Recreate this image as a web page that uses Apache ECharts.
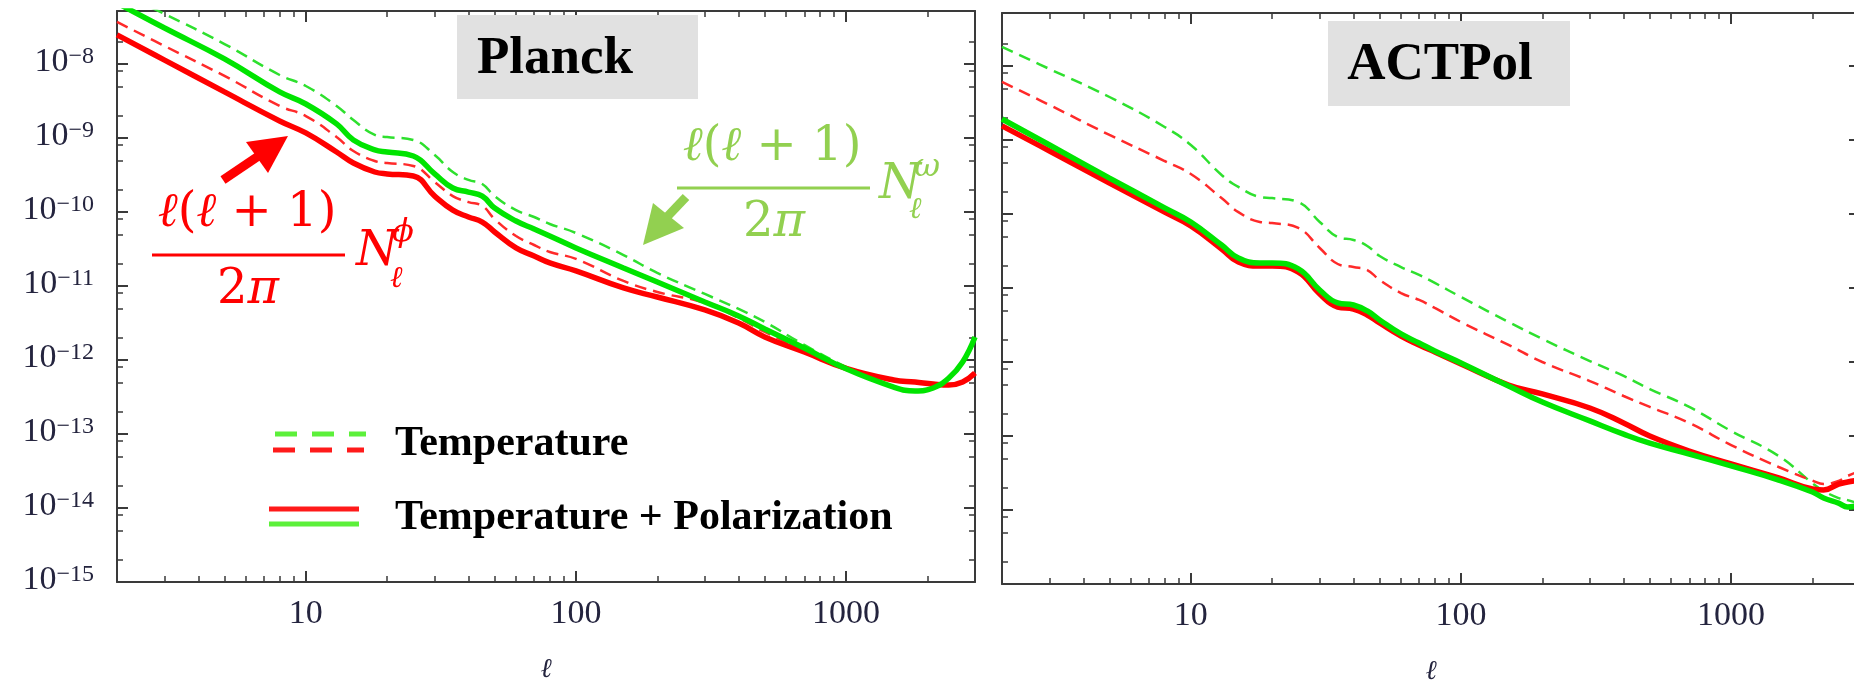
<!DOCTYPE html>
<html>
<head>
<meta charset="utf-8">
<title>Lensing reconstruction noise: Planck and ACTPol</title>
<script src="https://cdn.jsdelivr.net/npm/echarts@6.0.0/dist/echarts.min.js"></script>
<style>
  html, body { margin: 0; padding: 0; background: #fff; }
  #chart { width: 1854px; height: 683px; }
</style>
</head>
<body>
<div id="chart"></div>
<script>
// multipoles the curves were read at
const planckEll = [2, 3, 5, 8, 10, 13, 15, 18, 20, 25, 30, 35, 40, 45, 50, 60, 70, 80, 100, 150, 200, 300, 400, 500, 700, 1000, 1500, 1800, 2100, 2400, 2700, 3000]
const actEll = [2, 3, 5, 8, 10, 13, 15, 18, 20, 25, 30, 35, 40, 45, 50, 60, 70, 80, 100, 150, 200, 300, 400, 500, 700, 1000, 1500, 2000, 2200, 2500, 2700, 3000]

// Planck: l(l+1)/2pi N_l, phi = red, omega = green
const planckPhiTT = [3.70e-8, 1.75e-8, 6.89e-9, 2.71e-9, 1.98e-9, 1.03e-9, 6.67e-10, 4.89e-10, 4.59e-10, 4.19e-10, 2.54e-10, 1.64e-10, 1.36e-10, 1.21e-10, 8.0e-11, 4.74e-11, 3.58e-11, 2.88e-11, 2.32e-11, 1.17e-11, 8.3e-12, 5.9e-12, 3.70e-12, 2.39e-12, 1.36e-12, 7.7e-13, 5.4e-13, 5.1e-13, 4.8e-13, 4.65e-13, 5.1e-13, 6.8e-13]
const planckOmegaTT = [9.4e-8, 4.74e-8, 1.86e-8, 7.1e-9, 5.04e-9, 2.71e-9, 1.75e-9, 1.10e-9, 1.03e-9, 9.4e-10, 5.89e-10, 3.47e-10, 2.71e-10, 2.39e-10, 1.64e-10, 1.06e-10, 8.55e-11, 6.89e-11, 5.2e-11, 2.62e-11, 1.50e-11, 7.8e-12, 4.89e-12, 3.27e-12, 1.60e-12, 8.1e-13, 4.4e-13, 3.9e-13, 4.3e-13, 5.8e-13, 9.6e-13, 2.1e-12]
const planckPhiTP = [2.47e-8, 1.13e-8, 4.19e-9, 1.70e-9, 1.17e-9, 6.47e-10, 4.59e-10, 3.47e-10, 3.27e-10, 3.06e-10, 1.64e-10, 1.06e-10, 8.55e-11, 7.32e-11, 5.37e-11, 3.27e-11, 2.54e-11, 2.05e-11, 1.60e-11, 9.4e-12, 7.1e-12, 4.74e-12, 3.16e-12, 2.05e-12, 1.28e-12, 7.7e-13, 5.37e-13, 5.04e-13, 4.74e-13, 4.59e-13, 5.04e-13, 6.67e-13]
const planckOmegaTP = [6.67e-8, 3.06e-8, 1.17e-8, 4.19e-9, 2.88e-9, 1.55e-9, 9.4e-10, 6.89e-10, 6.47e-10, 5.71e-10, 3.27e-10, 2.11e-10, 1.86e-10, 1.64e-10, 1.13e-10, 7.55e-11, 5.89e-11, 4.74e-11, 3.27e-11, 1.75e-11, 1.13e-11, 6.08e-12, 3.94e-12, 2.62e-12, 1.45e-12, 7.6e-13, 4.31e-13, 3.81e-13, 4.19e-13, 5.71e-13, 9.4e-13, 2.05e-12]

// ACTPol
const actPhiTT = [6.08e-9, 2.97e-9, 1.17e-9, 5.2e-10, 3.47e-10, 1.64e-10, 1.06e-10, 7.8e-11, 7.55e-11, 6.47e-11, 3.47e-11, 2.11e-11, 1.92e-11, 1.75e-11, 1.28e-11, 8.55e-12, 6.89e-12, 5.37e-12, 3.47e-12, 1.70e-12, 1.0e-12, 5.53e-13, 3.47e-13, 2.47e-13, 1.50e-13, 7.55e-14, 3.81e-14, 2.5e-14, 2.24e-14, 2.47e-14, 2.88e-14, 3.37e-14]
const actOmegaTT = [1.81e-8, 9.1e-9, 3.81e-9, 1.50e-9, 8.55e-10, 3.37e-10, 2.32e-10, 1.70e-10, 1.64e-10, 1.45e-10, 7.8e-11, 4.89e-11, 4.46e-11, 3.70e-11, 2.71e-11, 1.92e-11, 1.50e-11, 1.17e-11, 7.55e-12, 3.47e-12, 2.05e-12, 1.03e-12, 6.47e-13, 4.31e-13, 2.47e-13, 1.17e-13, 5.37e-14, 2.3e-14, 1.81e-14, 1.45e-14, 1.36e-14, 1.21e-14]
const actPhiTP = [1.55e-9, 7.1e-10, 2.62e-10, 1.06e-10, 6.89e-11, 3.37e-11, 2.24e-11, 1.98e-11, 1.98e-11, 1.64e-11, 8.3e-12, 5.53e-12, 5.2e-12, 4.31e-12, 3.37e-12, 2.24e-12, 1.70e-12, 1.36e-12, 9.4e-13, 4.89e-13, 3.70e-13, 2.39e-13, 1.5e-13, 1.0e-13, 6.27e-14, 4.19e-14, 2.71e-14, 1.92e-14, 1.86e-14, 2.24e-14, 2.39e-14, 2.54e-14]
const actOmegaTP = [1.92e-9, 8.55e-10, 3.06e-10, 1.21e-10, 7.8e-11, 3.81e-11, 2.54e-11, 2.18e-11, 2.18e-11, 1.81e-11, 9.4e-12, 6.27e-12, 5.89e-12, 4.89e-12, 3.70e-12, 2.39e-12, 1.81e-12, 1.41e-12, 9.7e-13, 4.74e-13, 2.88e-13, 1.60e-13, 1.06e-13, 8.0e-14, 5.71e-14, 3.94e-14, 2.54e-14, 1.75e-14, 1.45e-14, 1.24e-14, 1.10e-14, 1.17e-14]

// axis ranges and ticks
const xRange = [2, 3000]
const yRange = [1e-15, 5.2e-8]
const xMajor = [10, 100, 1000]
const xMinor = [3, 4, 5, 6, 7, 8, 9, 20, 30, 40, 50, 60, 70, 80, 90, 200, 300, 400, 500, 600, 700, 800, 900, 2000]
const yMajor = [1e-15, 1e-14, 1e-13, 1e-12, 1e-11, 1e-10, 1e-9, 1e-8]
const yMinor = [2e-15, 5e-15, 8e-15, 2e-14, 5e-14, 8e-14, 2e-13, 5e-13, 8e-13, 2e-12, 5e-12, 8e-12, 2e-11, 5e-11, 8e-11, 2e-10, 5e-10, 8e-10, 2e-9, 5e-9, 8e-9, 2e-8]

const RED = '#ff0000'
const GREEN = '#00e400'
const LEG_GREEN = '#5cf03a'
const MATH_GREEN = '#92d050'
const AXIS_COLOR = '#3a3a3a'
const LABEL_COLOR = '#24243e'

const chart = echarts.init(document.getElementById('chart'))

// the log axes carry the data; ticks/labels sit on plain value axes laid
// over them in log10 space (log axis tick rounding drops values < 1e-10)
const lg = Math.log10
const xExt = [lg(xRange[0]), lg(xRange[1])]
const yExt = [lg(yRange[0]), lg(yRange[1])]

function tickAxis (g, position, ext, ticks, major, extra) {
  return Object.assign({
    type: 'value',
    gridIndex: g,
    position: position,
    min: ext[0],
    max: ext[1],
    silent: true,
    axisLine: { show: major, onZero: false, lineStyle: { color: AXIS_COLOR, width: 2 } },
    axisTick: {
      show: true,
      inside: true,
      length: major ? 11 : 6,
      customValues: ticks.map(lg),
      lineStyle: { color: AXIS_COLOR, width: major ? 2 : 1.5 }
    },
    axisLabel: { show: false },
    splitLine: { show: false }
  }, extra || {})
}

const serif = 'Liberation Serif'
const xAxes = []
const yAxes = []
;[0, 1].forEach((g) => {
  xAxes.push({ type: 'log', logBase: 10, gridIndex: g, min: xRange[0], max: xRange[1], show: false })
  xAxes.push(tickAxis(g, 'bottom', xExt, xMajor, true, {
    axisLabel: {
      show: true,
      customValues: xMajor.map(lg),
      formatter: (v) => String(Math.round(Math.pow(10, v))),
      fontFamily: serif,
      fontSize: 34,
      color: LABEL_COLOR,
      margin: 15
    },
    name: 'ℓ',
    nameLocation: 'middle',
    nameGap: 74,
    nameTextStyle: { fontFamily: 'DejaVu Serif', fontStyle: 'italic', fontSize: 27, color: LABEL_COLOR }
  }))
  xAxes.push(tickAxis(g, 'bottom', xExt, xMinor, false))
  xAxes.push(tickAxis(g, 'top', xExt, xMajor, true))
  xAxes.push(tickAxis(g, 'top', xExt, xMinor, false))

  yAxes.push({ type: 'log', logBase: 10, gridIndex: g, min: yRange[0], max: yRange[1], show: false })
  yAxes.push(tickAxis(g, 'left', yExt, yMajor, true, g === 0 ? {
    axisLabel: {
      show: true,
      customValues: yMajor.map(lg),
      formatter: (v) => '{b|10}{s|−' + Math.round(-v) + '}',
      margin: 23,
      padding: [0, 0, 4, 0],
      rich: {
        b: { fontFamily: serif, fontSize: 34, lineHeight: 34, color: LABEL_COLOR, verticalAlign: 'bottom' },
        s: { fontFamily: serif, fontSize: 24, lineHeight: 24, color: LABEL_COLOR, verticalAlign: 'top' }
      }
    }
  } : null))
  yAxes.push(tickAxis(g, 'left', yExt, yMinor, false))
  yAxes.push(tickAxis(g, 'right', yExt, yMajor, true))
  yAxes.push(tickAxis(g, 'right', yExt, yMinor, false))
})

function curve (name, g, ells, vals, color, dashed) {
  return {
    name: name,
    type: 'line',
    xAxisIndex: g * 5,
    yAxisIndex: g * 5,
    data: ells.map((l, i) => [l, vals[i]]),
    showSymbol: false,
    symbol: 'none',
    smooth: 0.45,
    clip: true,
    silent: true,
    lineStyle: dashed
      ? { color: color, width: 2.5, type: [12, 7] }
      : { color: color, width: 5.5 },
    z: dashed ? 2 : 3
  }
}

const series = [
  curve('Temperature', 0, planckEll, planckOmegaTT, '#2ee02e', true),
  curve('Temperature', 0, planckEll, planckPhiTT, '#ff2a2a', true),
  curve('Temperature + Polarization', 0, planckEll, planckPhiTP, RED, false),
  curve('Temperature + Polarization', 0, planckEll, planckOmegaTP, GREEN, false),
  curve('Temperature', 1, actEll, actOmegaTT, '#2ee02e', true),
  curve('Temperature', 1, actEll, actPhiTT, '#ff2a2a', true),
  curve('Temperature + Polarization', 1, actEll, actPhiTP, RED, false),
  curve('Temperature + Polarization', 1, actEll, actOmegaTP, GREEN, false)
]

function txt (text, x, y, size, color, opts) {
  return {
    type: 'text',
    z: 10,
    style: Object.assign({
      text: text,
      x: x,
      y: y,
      fill: color,
      fontSize: size,
      fontFamily: 'DejaVu Serif',
      align: 'left',
      verticalAlign: 'middle'
    }, opts || {})
  }
}
// math line: italic letters, upright digits/brackets
function mathTxt (text, x, y, size, color) {
  const up = { fontFamily: 'DejaVu Serif', fontSize: size, fill: color }
  const it = Object.assign({ fontStyle: 'italic' }, up)
  return txt(text, x, y, size, color, { align: 'center', rich: { u: up, i: it } })
}
function seg (x1, y1, x2, y2, color, width, dash) {
  return {
    type: 'line',
    z: 10,
    shape: { x1: x1, y1: y1, x2: x2, y2: y2 },
    style: { stroke: color, lineWidth: width, lineDash: dash || null }
  }
}
function head (pts, color) {
  return { type: 'polygon', z: 10, shape: { points: pts }, style: { fill: color } }
}

const numer = '{i|ℓ}{u|(}{i|ℓ}{u| + 1)}'
const denom = '{u|2}{i|π}'

const graphic = [
  // panel titles
  { type: 'rect', z: 9, shape: { x: 457, y: 15, width: 241, height: 84 }, style: { fill: '#e1e1e1' } },
  txt('Planck', 555, 59, 53, '#000', { fontFamily: serif, fontWeight: 'bold', align: 'center' }),
  { type: 'rect', z: 9, shape: { x: 1328, y: 21, width: 242, height: 85 }, style: { fill: '#e1e1e1' } },
  txt('ACTPol', 1440, 65, 53, '#000', { fontFamily: serif, fontWeight: 'bold', align: 'center' }),

  // red label: l(l+1)/2pi N^phi
  mathTxt(numer, 247, 214, 48, RED),
  seg(152, 255, 345, 255, RED, 3),
  mathTxt(denom, 248, 291, 48, RED),
  txt('N', 356, 253, 48, RED, { fontStyle: 'italic' }),
  txt('ℓ', 390, 279, 30, RED, { fontStyle: 'italic' }),
  txt('ϕ', 392, 233, 32, RED, { fontStyle: 'italic' }),
  seg(223, 180, 260, 155, RED, 9),
  head([[288, 136], [246, 142], [268, 173]], RED),

  // green label: l(l+1)/2pi N^omega
  mathTxt(numer, 772, 148, 48, MATH_GREEN),
  seg(677, 188, 870, 188, MATH_GREEN, 3),
  mathTxt(denom, 774, 224, 48, MATH_GREEN),
  txt('N', 879, 186, 48, MATH_GREEN, { fontStyle: 'italic' }),
  txt('ℓ', 909, 210, 30, MATH_GREEN, { fontStyle: 'italic' }),
  txt('ω', 914, 168, 32, MATH_GREEN, { fontStyle: 'italic' }),
  seg(686, 197, 666, 218, MATH_GREEN, 9),
  head([[643, 245], [653, 203], [684, 228]], MATH_GREEN),

  // legend
  seg(275, 434, 366, 434, LEG_GREEN, 5, [22, 15]),
  seg(273, 450, 364, 450, '#ff1a1a', 5, [22, 15]),
  txt('Temperature', 395, 444, 42, '#000', { fontFamily: serif, fontWeight: 'bold' }),
  seg(269, 509, 359, 509, '#ff1a1a', 5),
  seg(269, 524, 359, 524, LEG_GREEN, 5),
  txt('Temperature + Polarization', 395, 518, 42, '#000', { fontFamily: serif, fontWeight: 'bold' })
]

chart.setOption({
  animation: false,
  backgroundColor: '#fff',
  grid: [
    { left: 117, top: 11, width: 858, height: 571, outerBoundsMode: 'none' },
    { left: 1002, top: 13, width: 858, height: 571, outerBoundsMode: 'none' }
  ],
  xAxis: xAxes,
  yAxis: yAxes,
  series: series,
  graphic: graphic
})
</script>
</body>
</html>
